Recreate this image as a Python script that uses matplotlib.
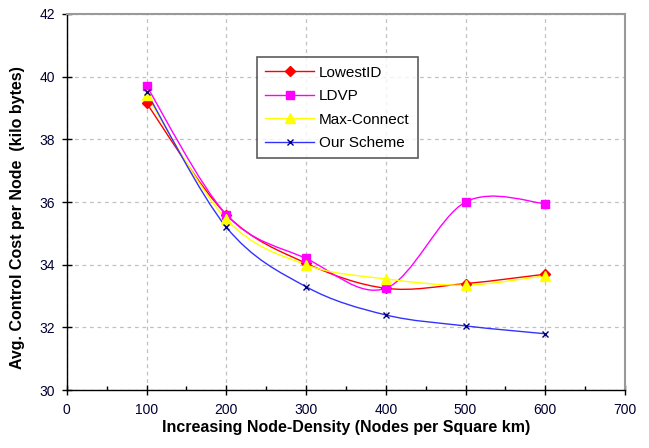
import numpy as np
import matplotlib
matplotlib.use('Agg')
import matplotlib.pyplot as plt
from matplotlib.path import Path
from matplotlib.patches import PathPatch
from matplotlib.lines import Line2D

plt.rcParams['font.family'] = ['Liberation Sans', 'DejaVu Sans']

nodes = [100, 200, 300, 400, 500, 600]
lowest_id = [39.15, 35.6, 34.05, 33.25, 33.4, 33.7]
ldvp = [39.7, 35.6, 34.2, 33.25, 36.0, 35.95]
max_connect = [39.4, 35.45, 34.0, 33.55, 33.35, 33.65]
our_scheme = [39.5, 35.2, 33.3, 32.4, 32.05, 31.8]

series = [
    ('LowestID', lowest_id, '#FF0000', 'D', 5, '#FF0000'),
    ('LDVP', ldvp, '#FF00FF', 's', 6, '#FF00FF'),
    ('Max-Connect', max_connect, '#FFFF00', '^', 7, '#FFFF00'),
    ('Our Scheme', our_scheme, '#3333FF', 'x', 5, '#000080'),
]


def smooth_path(xs, ys):
    # Excel-style smoothed line: Catmull-Rom segments as cubic Beziers
    pts = np.column_stack([xs, ys]).astype(float)
    verts = [pts[0]]
    codes = [Path.MOVETO]
    n = len(pts)
    for i in range(n - 1):
        p0 = pts[i - 1] if i > 0 else pts[i]
        p1 = pts[i]
        p2 = pts[i + 1]
        p3 = pts[i + 2] if i + 2 < n else pts[i + 1]
        c1 = p1 + (p2 - p0) / 6.0
        c2 = p2 - (p3 - p1) / 6.0
        verts += [c1, c2, p2]
        codes += [Path.CURVE4] * 3
    return Path(verts, codes)


fig = plt.figure(figsize=(6.49, 4.48), dpi=100)
ax = fig.add_axes([0.103, 0.129, 0.860, 0.840])

for name, vals, col, mk, ms, mcol in series:
    ax.add_patch(PathPatch(smooth_path(nodes, vals), facecolor='none',
                           edgecolor=col, lw=1.0, zorder=3))
    ax.plot(nodes, vals, linestyle='none', marker=mk, markersize=ms,
            color=mcol, markeredgecolor=mcol, zorder=4)

ax.set_xlim(0, 700)
ax.set_ylim(30, 42)
ax.set_xticks(range(0, 701, 100))
ax.set_yticks(range(30, 43, 2))
ax.set_xticks(range(50, 700, 100), minor=True)
ax.grid(True, which='major', linestyle=(0, (3, 3)), color='#C0C0C0', lw=0.9)
ax.set_axisbelow(True)

ax.tick_params(axis='x', which='major', direction='inout', length=7, width=1,
               labelsize=10, colors='black', labelcolor='#000033', pad=6)
ax.tick_params(axis='x', which='minor', direction='in', length=3, width=1)
ax.tick_params(axis='y', which='major', direction='inout', length=7, width=1,
               labelsize=10, labelcolor='#000033', pad=5)

for s in ['top', 'right']:
    ax.spines[s].set_color('#999999')
    ax.spines[s].set_linewidth(1.5)
for s in ['left', 'bottom']:
    ax.spines[s].set_color('black')
    ax.spines[s].set_linewidth(1.0)

ax.set_xlabel('Increasing Node-Density (Nodes per Square km)', fontsize=11.5,
              fontweight='bold', labelpad=2)
ax.set_ylabel('Avg. Control Cost per Node  (kilo bytes)', fontsize=11.5,
              fontweight='bold')
ax.yaxis.set_label_coords(-0.075, 0.46)

handles = [Line2D([], [], color=col, marker=mk, markersize=ms, lw=1.0,
                  markerfacecolor=mcol, markeredgecolor=mcol)
           for name, vals, col, mk, ms, mcol in series]
leg = ax.legend(handles, [s[0] for s in series], loc='upper left',
                bbox_to_anchor=(0.327, 0.905), fontsize=11, frameon=True,
                fancybox=False, handlelength=3.2, labelspacing=0.62,
                borderpad=0.55, handletextpad=0.3)
leg.get_frame().set_edgecolor('#333333')
leg.get_frame().set_linewidth(1.2)

fig.savefig('out.png', dpi=100)
